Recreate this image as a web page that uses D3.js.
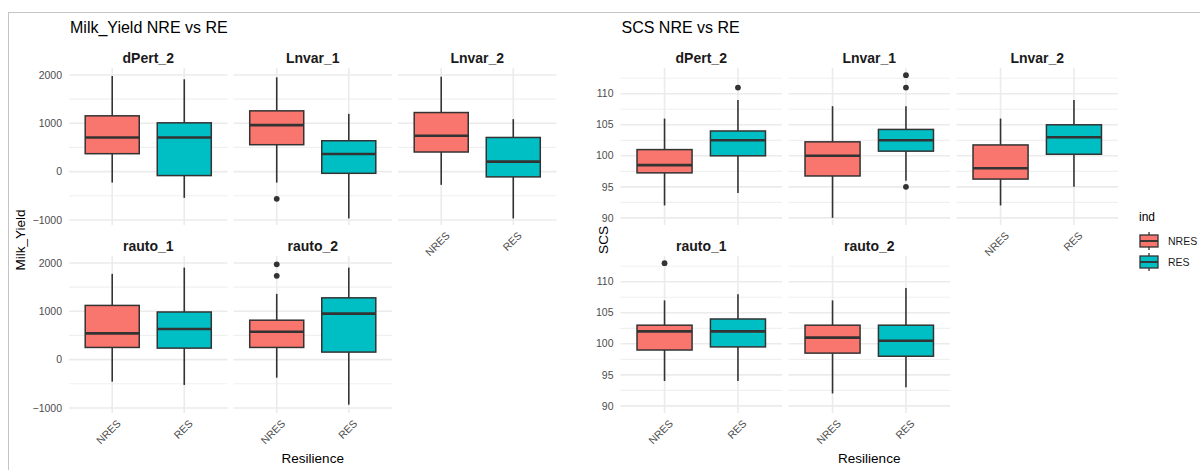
<!DOCTYPE html>
<html lang="en">
<head>
<meta charset="utf-8">
<title>Milk_Yield / SCS NRE vs RE</title>
<script src="https://cdn.jsdelivr.net/npm/d3@7"></script>
<style>
    body { margin: 0; background: #fff; }
    text { font-family: "Liberation Sans", Arial, sans-serif; }
    .tick-label { font-size: 10.5px; fill: #4d4d4d; }
    .strip { font-size: 14px; font-weight: bold; fill: #1a1a1a; }
    .title { font-size: 16px; fill: #000; }
    .axis-title { font-size: 13.5px; fill: #000; }
    .legend-text { font-size: 10.5px; fill: #1a1a1a; }
    .grid-major { stroke: #ebebeb; stroke-width: 1.6; }
    .grid-minor { stroke: #f0f0f0; stroke-width: 1.2; }
    .frame { stroke: #c4c4c4; stroke-width: 1; }
</style>
</head>
<body>
<div id="chart"></div>
<script>

var facets = ["dPert_2", "Lnvar_1", "Lnvar_2", "rauto_1", "rauto_2"];
var groups = ["NRES", "RES"];

// per facet: [lower whisker, Q1, median, Q3, upper whisker]
var milkNRES = [
    [-227, 371, 707, 1155, 1980],
    [-227, 557, 963, 1258, 1952],
    [-274, 406, 742, 1223, 1965],
    [-456, 252, 544, 1122, 1775],
    [-374, 252, 578, 816, 1361]
];
var milkRES = [
    [-543, -82, 707, 1010, 1911],
    [-969, -35, 365, 639, 1196],
    [-969, -109, 206, 707, 1086],
    [-524, 238, 633, 986, 1905],
    [-932, 156, 952, 1279, 1905]
];
var milkOutliers = [
    ["Lnvar_1", "NRES", -563],
    ["rauto_2", "NRES", 1973],
    ["rauto_2", "NRES", 1735]
];

var scsNRES = [
    [92, 97.25, 98.5, 101, 106],
    [90, 96.75, 100, 102.25, 108],
    [92, 96.25, 98, 101.75, 106],
    [94, 99, 102, 103, 107],
    [92, 98.5, 101, 103, 107]
];
var scsRES = [
    [94, 100, 102.5, 104, 109],
    [96, 100.75, 102.5, 104.25, 108],
    [95, 100.25, 103, 105, 109],
    [94, 99.5, 102, 104, 108],
    [93, 98, 100.5, 103, 109]
];
var scsOutliers = [
    ["dPert_2", "RES", 111],
    ["Lnvar_1", "RES", 113],
    ["Lnvar_1", "RES", 111],
    ["Lnvar_1", "RES", 95],
    ["rauto_1", "NRES", 113]
];

var milkTicks = [-1000, 0, 1000, 2000];
var scsTicks = [90, 95, 100, 105, 110];

var colors = {NRES: "#F8766D", RES: "#00BFC4"};

var width = 1200, height = 470;

var svg = d3.select("#chart").append("svg")
    .attr("width", width)
    .attr("height", height);

// frame round the plot
svg.append("line").attr("class", "frame")
    .attr("x1", 8).attr("x2", width).attr("y1", 12.5).attr("y2", 12.5);
svg.append("line").attr("class", "frame")
    .attr("x1", 8.5).attr("x2", 8.5).attr("y1", 12).attr("y2", height);

var rows = [{top: 68, h: 157}, {top: 256, h: 157}];

function drawChart(cfg) {
    var g = svg.append("g");
    var nres = cfg.nres, res = cfg.res;

    var step = cfg.ticks[1] - cfg.ticks[0];
    var minor = d3.range(cfg.ticks[0] - step / 2, cfg.domain[1], step)
        .filter(function (v) { return v > cfg.domain[0]; });

    facets.forEach(function (f, i) {
        var row = Math.floor(i / 3), col = i % 3;
        var px = cfg.left + col * (cfg.panelW + cfg.gap);
        var top = rows[row].top, h = rows[row].h;

        var x = d3.scalePoint().domain(groups)
            .range([px, px + cfg.panelW]).padding(0.6);
        var y = d3.scaleLinear().domain(cfg.domain).range([top + h, top]);
        var p = g.append("g");

        // grid
        p.selectAll(".gm").data(minor).enter().append("line")
            .attr("class", "grid-minor")
            .attr("x1", px).attr("x2", px + cfg.panelW)
            .attr("y1", function (d) { return y(d); })
            .attr("y2", function (d) { return y(d); });
        p.selectAll(".gy").data(cfg.ticks).enter().append("line")
            .attr("class", "grid-major")
            .attr("x1", px).attr("x2", px + cfg.panelW)
            .attr("y1", function (d) { return y(d); })
            .attr("y2", function (d) { return y(d); });
        p.selectAll(".gx").data(groups).enter().append("line")
            .attr("class", "grid-major")
            .attr("x1", function (d) { return x(d); })
            .attr("x2", function (d) { return x(d); })
            .attr("y1", top).attr("y2", top + h);

        // strip label
        p.append("text").attr("class", "strip")
            .attr("x", px + cfg.panelW / 2).attr("y", top - 10)
            .attr("dy", "0.35em").attr("text-anchor", "middle")
            .text(f);

        // boxes
        var bw = x.step() * 0.75;
        var stats = [{grp: "NRES", s: nres[i]}, {grp: "RES", s: res[i]}];
        stats.forEach(function (b) {
            var cx = x(b.grp), s = b.s;
            p.append("line")
                .attr("x1", cx).attr("x2", cx)
                .attr("y1", y(s[0])).attr("y2", y(s[1]))
                .attr("stroke", "#333").attr("stroke-width", 1.6);
            p.append("line")
                .attr("x1", cx).attr("x2", cx)
                .attr("y1", y(s[3])).attr("y2", y(s[4]))
                .attr("stroke", "#333").attr("stroke-width", 1.6);
            p.append("rect")
                .attr("x", cx - bw / 2).attr("width", bw)
                .attr("y", y(s[3])).attr("height", y(s[1]) - y(s[3]))
                .attr("fill", colors[b.grp])
                .attr("stroke", "#333").attr("stroke-width", 1.5);
            p.append("line")
                .attr("x1", cx - bw / 2).attr("x2", cx + bw / 2)
                .attr("y1", y(s[2])).attr("y2", y(s[2]))
                .attr("stroke", "#333").attr("stroke-width", 2.6);
        });

        p.selectAll(".out")
            .data(cfg.outliers.filter(function (o) { return o[0] === f; }))
            .enter().append("circle")
            .attr("cx", function (o) { return x(o[1]); })
            .attr("cy", function (o) { return y(o[2]); })
            .attr("r", 2.9).attr("fill", "#333");

        // y tick labels on the first column
        if (col === 0) {
            p.selectAll(".yl").data(cfg.ticks).enter().append("text")
                .attr("class", "tick-label")
                .attr("x", px - 7)
                .attr("y", function (d) { return y(d); })
                .attr("dy", "0.35em").attr("text-anchor", "end")
                .text(function (d) { return d < 0 ? "\u2212" + Math.abs(d) : d; });
        }

        // x tick labels where no panel lies below
        if (row === 1 || i + 3 >= facets.length) {
            p.selectAll(".xl").data(groups).enter().append("text")
                .attr("class", "tick-label")
                .attr("text-anchor", "end")
                .attr("dy", "0.7em")
                .attr("transform", function (d) {
                    return "translate(" + (x(d) + 4) + "," + (top + h + 6) + ") rotate(-45)";
                })
                .text(function (d) { return d; });
        }
    });

    var totalW = 3 * cfg.panelW + 2 * cfg.gap;

    g.append("text").attr("class", "title")
        .attr("x", cfg.left + 1).attr("y", 33)
        .text(cfg.title);

    g.append("text").attr("class", "axis-title")
        .attr("x", cfg.left + totalW / 2).attr("y", 458)
        .attr("dy", "0.35em").attr("text-anchor", "middle")
        .text("Resilience");

    g.append("text").attr("class", "axis-title")
        .attr("transform", "translate(" + cfg.yTitleX + ",240) rotate(-90)")
        .attr("dy", "0.35em").attr("text-anchor", "middle")
        .text(cfg.yLabel);
}

drawChart({
    title: "Milk_Yield NRE vs RE", yLabel: "Milk_Yield",
    nres: milkNRES, res: milkRES, outliers: milkOutliers,
    ticks: milkTicks, domain: [-1105, 2145],
    left: 69, panelW: 158.5, gap: 6, yTitleX: 20
});

drawChart({
    title: "SCS NRE vs RE", yLabel: "SCS",
    nres: scsNRES, res: scsRES, outliers: scsOutliers,
    ticks: scsTicks, domain: [88.85, 114.15],
    left: 620.5, panelW: 161.5, gap: 6.5, yTitleX: 603
});

// legend
var legend = svg.append("g").attr("transform", "translate(1139,0)");
legend.append("text").attr("class", "axis-title")
    .attr("x", 0).attr("y", 217).attr("dy", "0.35em")
    .style("font-size", "12px")
    .text("ind");

var keys = legend.selectAll(".key").data(groups).enter().append("g")
    .attr("transform", function (d, i) { return "translate(0," + (241 + i * 21) + ")"; });
keys.append("line")
    .attr("x1", 10).attr("x2", 10).attr("y1", -9).attr("y2", 9)
    .attr("stroke", "#333").attr("stroke-width", 1.3);
keys.append("rect")
    .attr("x", 1).attr("y", -6).attr("width", 18).attr("height", 12)
    .attr("fill", function (d) { return colors[d]; })
    .attr("stroke", "#333").attr("stroke-width", 1.3);
keys.append("line")
    .attr("x1", 1).attr("x2", 19).attr("y1", 0).attr("y2", 0)
    .attr("stroke", "#333").attr("stroke-width", 1.9);
keys.append("text").attr("class", "legend-text")
    .attr("x", 29).attr("y", 0).attr("dy", "0.35em")
    .text(function (d) { return d; });

</script>
</body>
</html>
